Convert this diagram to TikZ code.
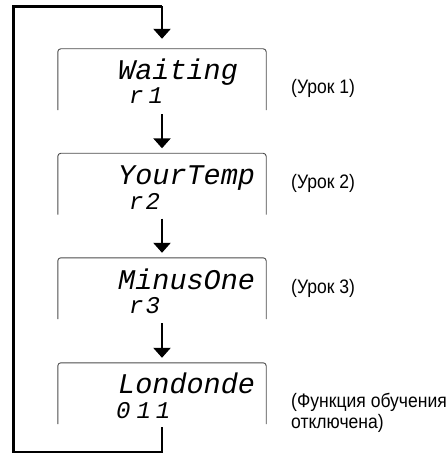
\documentclass[tikz,border=0pt]{standalone}
\usepackage{fontspec}
\usetikzlibrary{arrows.meta}
\newfontfamily\lcdfont{Liberation Mono}
\newfontfamily\lblfont{Liberation Sans}[FakeStretch=0.9]
\tikzset{
  boxline/.style={draw=black!70, line width=0.9pt, rounded corners=3pt},
  screen/.style={minimum width=208pt, minimum height=61pt, inner sep=0pt},
  lcd/.style={anchor=base west, inner sep=0pt, font=\lcdfont\itshape\fontsize{28.5}{30}\selectfont},
  lcdsmall/.style={anchor=base west, inner sep=0pt, font=\lcdfont\itshape\fontsize{24}{26}\selectfont},
  lbl/.style={anchor=west, inner sep=0pt, align=left, font=\lblfont\fontsize{19.5}{21}\selectfont},
  flow/.style={line width=2.5pt, -{Triangle[width=17pt,length=10pt]}},
  loopline/.style={line width=2.5pt, line join=miter}
}
\begin{document}
\begin{tikzpicture}[x=1pt,y=-1pt]
\clip (0,0) rectangle (445,454);
\useasboundingbox (0,0) rectangle (445,454);
% screens
\node[screen] (b1) at (162,79.5) {};
\node[screen] (b2) at (162,184) {};
\node[screen] (b3) at (162,288.5) {};
\node[screen] (b4) at (162,393.5) {};
\foreach \b in {b1,b2,b3,b4}{
  \draw[boxline] (\b.south west) -- (\b.north west) -- (\b.north east) -- (\b.south east);
}
% LCD texts
\node[lcd] (t1a) at (118,80) {Waiting};
\node[lcdsmall] (t1b) at (129,104) {r\hspace{5pt}1};
\node[lcd] (t2a) at (118,184.5) {YourTemp};
\node[lcdsmall] (t2b) at (129,209) {r\hspace{2pt}2};
\node[lcd] (t3a) at (118,289) {MinusOne};
\node[lcdsmall] (t3b) at (129,313.5) {r\hspace{2pt}3};
\node[lcd] (t4a) at (118,393.5) {Londonde};
\node[lcdsmall] (t4b) at (116,418) {0\hspace{6pt}1\hspace{5pt}1};
% labels
\node[lbl] (l1) at (291,88) {(Урок 1)};
\node[lbl] (l2) at (291,183) {(Урок 2)};
\node[lbl] (l3) at (291,288) {(Урок 3)};
\node[lbl] (l4) at (291,413) {(Функция обучения\\отключена)};
% connectors
\coordinate (tl) at (13.5,6.5);
\coordinate (bl) at (13.5,452);
\draw[flow] ([yshift=-4pt]b1.south) -- ([yshift=5pt]b2.north);
\draw[flow] ([yshift=-4pt]b2.south) -- ([yshift=5pt]b3.north);
\draw[flow] ([yshift=-4pt]b3.south) -- ([yshift=5pt]b4.north);
\draw[loopline] ([yshift=-3pt]b4.south) |- (bl) -- (tl) -- (tl -| b1.north);
\draw[flow] (tl -| b1.north) -- ([yshift=10pt]b1.north);
\end{tikzpicture}
\end{document}
